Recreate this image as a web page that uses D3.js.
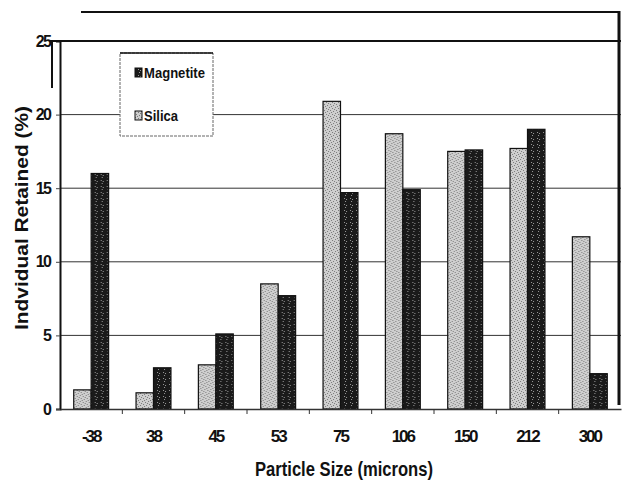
<!DOCTYPE html>
<html>
<head>
<meta charset="utf-8">
<script src="https://cdn.jsdelivr.net/npm/d3@7"></script>
<style>
  body { margin: 0; background: #fff; }
  text { font-family: "Liberation Sans", Arial, sans-serif; font-weight: bold; fill: #111; }
</style>
</head>
<body>
<svg id="chart" width="630" height="499"></svg>
<script>
// data
var categories = ["-38", "38", "45", "53", "75", "106", "150", "212", "300"];
var silica = [1.3, 1.1, 3.0, 8.5, 20.9, 18.7, 17.5, 17.7, 11.7];
var magnetite = [16.0, 2.8, 5.1, 7.7, 14.7, 14.9, 17.6, 19.0, 2.4];
var seriesNames = ["Silica", "Magnetite"];
var yTicks = [0, 5, 10, 15, 20, 25];

var svg = d3.select("#chart"),
    margin = {left: 60, right: 9, top: 41, bottom: 90},
    width = 630 - margin.left - margin.right,
    height = 499 - margin.top - margin.bottom;

// stipple patterns
var defs = svg.append("defs");
function stipple(id, bg, dot, seed) {
    var p = defs.append("pattern").attr("id", id)
        .attr("width", 6).attr("height", 6).attr("patternUnits", "userSpaceOnUse");
    p.append("rect").attr("width", 6).attr("height", 6).attr("fill", bg);
    [[0, 0], [3, 1], [1, 3], [4, 4], [2, 5], [5, 2]].forEach(function (d, i) {
        if ((i + seed) % 2 === 0 || seed === 0)
            p.append("rect").attr("x", d[0]).attr("y", d[1]).attr("width", 1).attr("height", 1).attr("fill", dot);
    });
}
stipple("silicaPat", "#cfcfcf", "#7a7a7a", 0);
stipple("magPat", "#1a1a1a", "#9a9a9a", 1);
var fills = {Silica: "url(#silicaPat)", Magnetite: "url(#magPat)"};

var g = svg.append("g").attr("transform", "translate(" + margin.left + "," + margin.top + ")");

var x0 = d3.scaleBand().domain(categories).range([0, width]).paddingInner(0.44).paddingOuter(0.22);
var x1 = d3.scaleBand().domain(seriesNames).range([0, x0.bandwidth()]);
var y = d3.scaleLinear().domain([0, 25]).range([height, 0]);

// gridlines
g.append("g").selectAll("line").data(yTicks.slice(1, 5)).enter().append("line")
    .attr("x1", 0).attr("x2", width)
    .attr("y1", function (d) { return y(d); }).attr("y2", function (d) { return y(d); })
    .attr("stroke", "#333").attr("stroke-width", 1);

// bars
var rows = categories.map(function (c, i) { return {cat: c, Silica: silica[i], Magnetite: magnetite[i]}; });
g.append("g").selectAll("g").data(rows).enter().append("g")
    .attr("transform", function (d) { return "translate(" + x0(d.cat) + ",0)"; })
  .selectAll("rect")
    .data(function (d) { return seriesNames.map(function (k) { return {key: k, value: d[k]}; }); })
  .enter().append("rect")
    .attr("x", function (d) { return x1(d.key); })
    .attr("y", function (d) { return y(d.value); })
    .attr("width", x1.bandwidth())
    .attr("height", function (d) { return height - y(d.value); })
    .attr("fill", function (d) { return fills[d.key]; })
    .attr("stroke", "#111").attr("stroke-width", 1.2);

// y axis
var yAxis = g.append("g").call(d3.axisLeft(y).tickValues(yTicks).tickSize(4).tickFormat(d3.format("d")));
yAxis.select(".domain").attr("stroke", "#111").attr("stroke-width", 2);
yAxis.selectAll(".tick line").attr("stroke", "#444");
yAxis.selectAll(".tick text").attr("x", -10).style("font-size", "16px").attr("letter-spacing", "-1.8");

// x axis
var xAxis = g.append("g").attr("transform", "translate(0," + height + ")")
    .call(d3.axisBottom(x0).tickSize(0).tickPadding(21));
xAxis.select(".domain").attr("stroke", "#333").attr("stroke-width", 1.5);
xAxis.selectAll(".tick text").style("font-size", "17px").attr("letter-spacing", "-2");
xAxis.selectAll(".sep").data(categories.slice(1)).enter().append("line")
    .attr("class", "sep")
    .attr("x1", function (d) { return x0(d) - x0.step() * x0.paddingInner() / 2; })
    .attr("x2", function (d) { return x0(d) - x0.step() * x0.paddingInner() / 2; })
    .attr("y1", 0).attr("y2", 5).attr("stroke", "#333");

// plot top border + page frame lines
g.append("line").attr("x1", -10).attr("x2", width).attr("y1", 0).attr("y2", 0)
    .attr("stroke", "#111").attr("stroke-width", 2);
g.append("line").attr("x1", -8).attr("x2", -8).attr("y1", 0).attr("y2", 47)
    .attr("stroke", "#111").attr("stroke-width", 2);
svg.append("line").attr("x1", 81).attr("x2", 619).attr("y1", 12).attr("y2", 12)
    .attr("stroke", "#111").attr("stroke-width", 2);
svg.append("line").attr("x1", 619).attr("x2", 619).attr("y1", 11).attr("y2", height + margin.top - 4)
    .attr("stroke", "#111").attr("stroke-width", 3);

// axis titles
svg.append("text").attr("transform", "translate(28,218) rotate(-90)")
    .attr("text-anchor", "middle").style("font-size", "19px")
    .attr("textLength", 224).attr("lengthAdjust", "spacingAndGlyphs")
    .text("Indvidual Retained (%)");
svg.append("text").attr("x", 344).attr("y", 476)
    .attr("text-anchor", "middle").style("font-size", "20px")
    .attr("textLength", 178).attr("lengthAdjust", "spacingAndGlyphs")
    .text("Particle Size (microns)");

// legend
var legend = svg.append("g").attr("transform", "translate(120,53)");
legend.append("rect").attr("width", 93).attr("height", 83)
    .attr("fill", "#fff").attr("stroke", "#666").attr("stroke-dasharray", "3,1");
legend.append("line").attr("x1", 0).attr("x2", 93).attr("y1", 0).attr("y2", 0)
    .attr("stroke", "#111").attr("stroke-width", 1.5);
var items = legend.selectAll(".item").data(["Magnetite", "Silica"]).enter().append("g")
    .attr("transform", function (d, i) { return "translate(15," + (15 + i * 43) + ")"; });
items.append("rect").attr("width", 7).attr("height", 9)
    .attr("fill", function (d) { return fills[d]; }).attr("stroke", "#111");
items.append("text").attr("x", 9).attr("y", 10).style("font-size", "15px")
    .attr("textLength", function (d) { return d === "Magnetite" ? 61 : 34; })
    .attr("lengthAdjust", "spacingAndGlyphs")
    .text(function (d) { return d; });
</script>
</body>
</html>
